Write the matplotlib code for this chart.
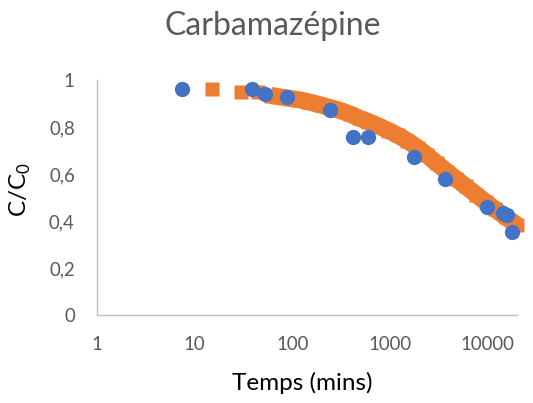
import matplotlib

matplotlib.use("Agg")
import matplotlib.pyplot as plt
from matplotlib.ticker import FixedLocator, FuncFormatter, NullLocator

plt.rcParams["font.family"] = ["Lato", "DejaVu Sans"]
plt.rcParams["mathtext.fontset"] = "custom"
plt.rcParams["mathtext.rm"] = "Lato"

# mesures (temps en minutes, C/C0)
t_exp = [7.5, 39, 52, 88, 243, 420, 596, 1760, 3660, 9860, 14400, 15800, 17800]
c_exp = [0.962, 0.962, 0.940, 0.928, 0.872, 0.757, 0.757, 0.672, 0.579,
         0.460, 0.434, 0.426, 0.353]

# courbe du modèle
t_mod = [15, 30, 45, 60, 75, 90, 120, 150, 195, 240, 300, 390, 480, 600, 750,
         960, 1200, 1500, 1920, 2400, 3000, 3840, 4800, 6000, 7680, 9600,
         12000, 15360, 20160]
c_mod = [0.962, 0.951, 0.949, 0.934, 0.928, 0.923, 0.915, 0.906, 0.894,
         0.883, 0.872, 0.855, 0.838, 0.823, 0.806, 0.785, 0.765, 0.742,
         0.712, 0.680, 0.646, 0.610, 0.578, 0.547, 0.512, 0.480, 0.449,
         0.416, 0.383]

x_ticks = [1, 10, 100, 1000, 10000]
y_ticks = [0, 0.2, 0.4, 0.6, 0.8, 1.0]

ORANGE = "#ED7D31"
BLUE = "#4472C4"
GREY_TXT = "#595959"
AXIS_LINE = "#BFBFBF"

fig = plt.figure(figsize=(5.33, 4.03), dpi=100)
ax = fig.add_axes([97 / 533, 1 - 315 / 403, 420 / 533, 235 / 403])

# le modèle est tracé en carrés très serrés : un trait épais comble les
# interstices à partir de 60 min
ax.plot(t_mod[3:], c_mod[3:], linestyle="-", lw=12.3, color=ORANGE,
        solid_capstyle="butt", solid_joinstyle="round", clip_on=False,
        zorder=2)
ax.plot(t_mod, c_mod, linestyle="none", marker="s", ms=10.2,
        color=ORANGE, mec="none", clip_on=False, zorder=2)
ax.plot(t_exp, c_exp, linestyle="none", marker="o", ms=11,
        color=BLUE, mec="none", clip_on=False, zorder=3)

ax.set_xscale("log")
ax.set_xlim(1, 20000)
ax.set_ylim(0, 1)
ax.xaxis.set_major_locator(FixedLocator(x_ticks))
ax.xaxis.set_minor_locator(NullLocator())
ax.xaxis.set_major_formatter(FuncFormatter(lambda v, _: f"{v:.0f}"))
ax.yaxis.set_major_locator(FixedLocator(y_ticks))
ax.yaxis.set_major_formatter(
    FuncFormatter(lambda v, _: f"{v:g}".replace(".", ",")))

ax.tick_params(axis="both", length=0, labelsize=13.4, labelcolor=GREY_TXT)
ax.tick_params(axis="x", pad=15)
ax.tick_params(axis="y", pad=16)

for side in ("top", "right"):
    ax.spines[side].set_visible(False)
for side in ("left", "bottom"):
    ax.spines[side].set_color(AXIS_LINE)
    ax.spines[side].set_linewidth(1.0)

ax.set_xlabel("Temps (mins)", fontsize=17.5, color="black", va="center")
ax.xaxis.set_label_coords(0.488, -0.289)
ax.set_ylabel(r"C/C$_\mathregular{0}$", fontsize=17.5, color="black",
              va="center")
ax.yaxis.set_label_coords(-0.183, 0.532)

fig.text(273 / 533, 1 - 35 / 403, "Carbamazépine", ha="center",
         va="baseline", fontsize=23, color=GREY_TXT)

fig.savefig("out.png", dpi=100)
plt.close(fig)
